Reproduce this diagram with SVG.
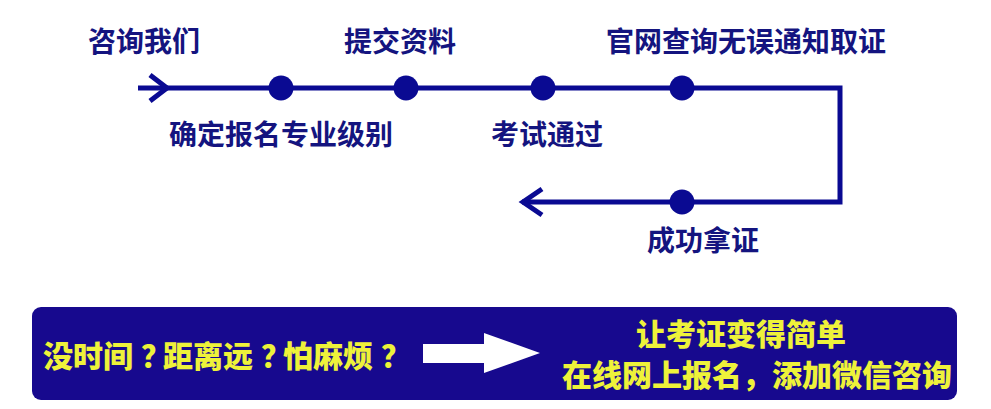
<svg xmlns="http://www.w3.org/2000/svg" width="991" height="409" viewBox="0 0 991 409">
<style>
.lbl{font-family:"Noto Sans CJK SC","Noto Sans",sans-serif;font-weight:700;font-size:28px;fill:#14147f}
.yel{font-family:"Noto Sans CJK SC","Noto Sans",sans-serif;font-weight:900;font-size:30px;fill:#eef23a}
.ln{fill:none;stroke:#0a0a92;stroke-width:5;stroke-linejoin:miter}
.dot{fill:#0a0a92}
</style>
<rect width="991" height="409" fill="#ffffff"/>
<g id="connectors">
<polyline class="ln" points="138,88 840,88 840,202 522,202"/>
<polyline class="ln" stroke-width="4" points="150,75 167,88 150,101"/>
<polyline class="ln" stroke-width="4" points="542,189 523,202 542,215"/>
</g>
<g id="n1"><text class="lbl" x="144" y="52" text-anchor="middle">咨询我们</text></g>
<g id="n2"><circle class="dot" cx="281" cy="88" r="12.5"/><text class="lbl" x="281" y="145" text-anchor="middle">确定报名专业级别</text></g>
<g id="n3"><circle class="dot" cx="406" cy="88" r="12.5"/><text class="lbl" x="400" y="52" text-anchor="middle">提交资料</text></g>
<g id="n4"><circle class="dot" cx="543" cy="88" r="12.5"/><text class="lbl" x="547" y="145" text-anchor="middle">考试通过</text></g>
<g id="n5"><circle class="dot" cx="682" cy="88" r="12.5"/><text class="lbl" x="746" y="52" text-anchor="middle">官网查询无误通知取证</text></g>
<g id="n6"><circle class="dot" cx="682" cy="202" r="12.5"/><text class="lbl" x="703" y="251" text-anchor="middle">成功拿证</text></g>
<g id="banner">
<rect x="32" y="307" width="925" height="93" rx="9" fill="#17098e"/>
<text class="yel" x="43 73 103 141 163 193 223 261 283 313 343 381" y="367">没时间？距离远？怕麻烦？</text>
<polygon points="423,344 484,344 484,333 540,353 484,373 484,363 423,363" fill="#ffffff"/>
<text class="yel" x="741" y="345" text-anchor="middle">让考证变得简单</text>
<text class="yel" x="757" y="386" text-anchor="middle">在线网上报名，添加微信咨询</text>
</g>
</svg>
